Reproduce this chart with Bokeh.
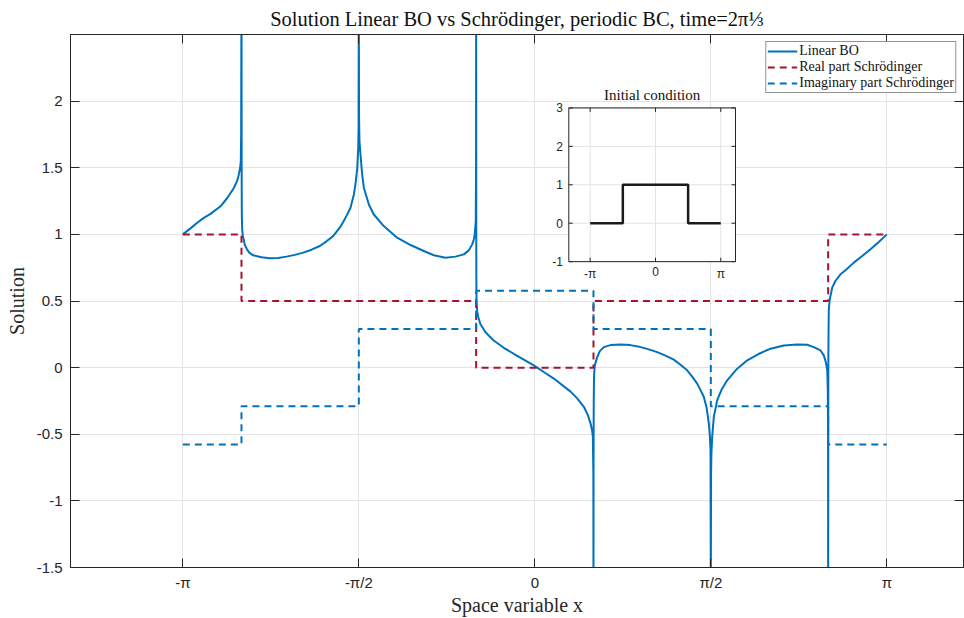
import numpy as np
from bokeh.plotting import figure
from bokeh.models import Range1d, LinearAxis, FixedTicker, CustomJSTickFormatter
from bokeh.core.properties import value
from bokeh.embed import file_html
from bokeh.resources import INLINE

PI = np.pi

# ---------------- data ----------------
bo_x = [-3.1416, -3.073, -3.013, -2.954, -2.894, -2.805, -2.745, -2.686, -2.656, -2.642, -2.630, -2.624, -2.621, -2.6185,
        -2.6175, -2.6165, -2.615, -2.612, -2.606, -2.599, -2.588, -2.569, -2.549, -2.513, -2.439, -2.365, -2.290, -2.216,
        -2.142, -2.067, -1.993, -1.919, -1.859, -1.800, -1.741, -1.705, -1.674, -1.645, -1.615, -1.600, -1.585, -1.576,
        -1.573, -1.5712,
        -1.5704, -1.569, -1.565, -1.556, -1.541, -1.526, -1.481, -1.437, -1.348, -1.229, -1.109, -0.991, -0.901, -0.797,
        -0.708, -0.634, -0.589, -0.559, -0.545, -0.536, -0.527, -0.5245, -0.5238,
        -0.5234, -0.5225, -0.522, -0.520, -0.514, -0.505, -0.486, -0.440, -0.367, -0.277, -0.188, -0.009, 0.080, 0.170,
        0.319, 0.378, 0.438, 0.473, 0.497, 0.511, 0.518, 0.5225, 0.5234,
        0.5238, 0.5245, 0.526, 0.528, 0.530, 0.535, 0.557, 0.580, 0.616, 0.676, 0.765, 0.854, 0.943, 1.017, 1.092, 1.166,
        1.240, 1.300, 1.360, 1.405, 1.449, 1.479, 1.508, 1.533, 1.553, 1.563, 1.568, 1.5704,
        1.5712, 1.573, 1.576, 1.583, 1.598, 1.628, 1.664, 1.717, 1.806, 1.896, 2.000, 2.104, 2.222, 2.342, 2.431, 2.490,
        2.550, 2.579, 2.597, 2.610, 2.615, 2.617, 2.6178,
        2.6185, 2.619, 2.620, 2.622, 2.624, 2.633, 2.654, 2.684, 2.728, 2.773, 2.847, 2.922, 2.996, 3.070, 3.1416]
bo_y = [1.000, 1.045, 1.087, 1.124, 1.154, 1.211, 1.273, 1.348, 1.403, 1.448, 1.50, 1.55, 1.75, 2.7,
        2.7, 1.5, 1.15, 1.04, 0.99, 0.963, 0.92, 0.888, 0.863, 0.843, 0.828, 0.821, 0.823, 0.833,
        0.846, 0.863, 0.885, 0.913, 0.948, 0.987, 1.05, 1.10, 1.15, 1.20, 1.30, 1.38, 1.497, 1.646,
        1.8, 2.7,
        2.7, 1.9, 1.7, 1.6, 1.45, 1.35, 1.224, 1.149, 1.062, 0.975, 0.920, 0.875, 0.843, 0.825,
        0.833, 0.85, 0.880, 0.925, 0.96, 1.0, 1.1, 1.5, 2.7,
        2.7, 1.0, 0.7, 0.5, 0.42, 0.38, 0.328, 0.266, 0.204, 0.149, 0.104, 0.017, -0.033, -0.082,
        -0.18, -0.231, -0.294, -0.356, -0.418, -0.47, -0.518, -0.8, -1.6,
        -1.6, -0.6, -0.244, -0.1, -0.045, 0.017, 0.079, 0.124, 0.154, 0.169, 0.174, 0.169, 0.154, 0.137, 0.116, 0.09,
        0.06, 0.022, -0.02, -0.067, -0.12, -0.169, -0.219, -0.30, -0.418, -0.52, -0.617, -1.6,
        -1.6, -0.8, -0.65, -0.518, -0.368, -0.244, -0.17, -0.095, -0.008, 0.055, 0.104, 0.142, 0.166, 0.174, 0.172, 0.154,
        0.129, 0.092, 0.042, -0.02, -0.17, -0.5, -1.6,
        -1.6, -0.5, 0.1, 0.3, 0.44, 0.515, 0.60, 0.652, 0.70, 0.731, 0.788, 0.838, 0.888, 0.943, 1.0]

re_edges = [-PI, -5 * PI / 6, -PI / 6, PI / 6, 5 * PI / 6, PI]
re_vals = [1.0, 0.5, 0.0, 0.5, 1.0]
im_edges = [-PI, -5 * PI / 6, -PI / 2, -PI / 6, PI / 6, PI / 2, 5 * PI / 6, PI]
im_vals = [-0.577, -0.289, 0.289, 0.577, 0.289, -0.289, -0.577]
ic_edges = [-PI, -PI / 2, PI / 2, PI]
ic_vals = [0.0, 1.0, 0.0]

x_ticks = [-PI, -PI / 2, 0.0, PI / 2, PI]
x_tick_labels = ["-π", "-π/2", "0", "π/2", "π"]
y_ticks = [-1.5, -1.0, -0.5, 0.0, 0.5, 1.0, 1.5, 2.0]
y_tick_labels = ["-1.5", "-1", "-0.5", "0", "0.5", "1", "1.5", "2"]
inset_x_ticks = [-PI, 0.0, PI]
inset_x_tick_labels = ["-π", "0", "π"]
inset_y_ticks = [-1.0, 0.0, 1.0, 2.0, 3.0]
inset_y_tick_labels = ["-1", "0", "1", "2", "3"]

# ---------------- layout constants ----------------
W, H = 964, 618
FL, FR, FT, FB = 70, 963, 33, 568          # main frame in canvas px
XLIM = (-4.144, 3.826)
YLIM = (-1.5, 2.5)
IL, IR, IT, IB = 568.3, 735.0, 106.7, 261.0  # inset box in canvas px
IXLIM = (-4.17, 3.85)
IYLIM = (-1.0, 3.0)

AX = "#262626"
GRID = "#e3e3e3"
BLUE = "#0072BD"
RED = "#A2142F"
SERIF = "Liberation Serif"
SANS = "Liberation Sans"


def step_xy(edges, vals):
    return list(edges), list(vals) + [vals[-1]]


def label_formatter(tick_values, tick_texts):
    return CustomJSTickFormatter(args=dict(tv=tick_values, tl=tick_texts), code="""
        let best = 0, d = Infinity;
        for (let i = 0; i < tv.length; i++) {
            const e = Math.abs(tv[i] - tick);
            if (e < d) { d = e; best = i; }
        }
        return tl[best];
    """)


p = figure(width=W, height=H, x_range=Range1d(*XLIM), y_range=Range1d(*YLIM),
           output_backend="svg", toolbar_location=None, tools="",
           min_border_left=FL, min_border_right=W - FR, min_border_top=FT,
           min_border_bottom=H - FB)
p.background_fill_color = "white"
p.border_fill_color = "white"
p.outline_line_color = AX
p.outline_line_width = 1

p.title.text = "Solution Linear BO vs Schrödinger, periodic BC, time=2π⅓"
p.title.align = "center"
p.title.text_font = SERIF
p.title.text_font_size = "20.5px"
p.title.text_font_style = "normal"
p.title.text_color = "#111111"
p.title.standoff = 10

for ax, ticks, labels, name, tstand, lstand in (
        (p.xaxis[0], x_ticks, x_tick_labels, "Space variable x", 6, 0),
        (p.yaxis[0], y_ticks, y_tick_labels, "Solution", 8, 6)):
    ax.ticker = FixedTicker(ticks=ticks)
    ax.formatter = label_formatter(ticks, labels)
    ax.major_tick_in = 9
    ax.major_tick_out = 0
    ax.minor_tick_line_color = None
    ax.axis_line_color = AX
    ax.major_tick_line_color = AX
    ax.major_label_text_font = SANS
    ax.major_label_text_font_size = "15px"
    ax.major_label_text_color = AX
    ax.major_label_standoff = tstand
    ax.axis_label = name
    ax.axis_label_text_font = SERIF
    ax.axis_label_text_font_size = "20px"
    ax.axis_label_text_font_style = "normal"
    ax.axis_label_text_color = AX
    ax.axis_label_standoff = lstand

p.xgrid.ticker = FixedTicker(ticks=x_ticks)
p.ygrid.ticker = FixedTicker(ticks=y_ticks)
for g in (p.xgrid[0], p.ygrid[0]):
    g.grid_line_color = GRID
    g.grid_line_width = 1

for ticks, side in ((x_ticks, "above"), (y_ticks, "right")):
    extra = LinearAxis(ticker=FixedTicker(ticks=ticks),
                       formatter=CustomJSTickFormatter(code="return ''"),
                       major_tick_in=9, major_tick_out=0, minor_tick_line_color=None,
                       axis_line_color=AX, major_tick_line_color=AX,
                       major_label_text_font_size="0px", major_label_standoff=0)
    p.add_layout(extra, side)

# ---------------- main curves ----------------
p.line(bo_x, bo_y, line_color=BLUE, line_width=2, legend_label="Linear BO")
rx, ry = step_xy(re_edges, re_vals)
p.step(rx, ry, mode="after", line_color=RED, line_width=2, line_dash="7 5",
       legend_label="Real part Schrödinger")
ix, iy = step_xy(im_edges, im_vals)
p.step(ix, iy, mode="after", line_color=BLUE, line_width=2, line_dash="7 5",
       legend_label="Imaginary part Schrödinger")

lg = p.legend[0]
lg.location = "top_right"
lg.margin = 7
lg.padding = 1
lg.spacing = 0
lg.glyph_width = 30
lg.glyph_height = 16
lg.label_height = 16
lg.label_standoff = 2
lg.label_text_font = SERIF
lg.label_text_font_size = "14px"
lg.label_text_color = "#111111"
lg.border_line_color = AX
lg.border_line_width = 1
lg.background_fill_alpha = 1

# ---------------- inset (own scales mapped into a sub-rectangle) ----------------
sx = (IR - IL) / (IXLIM[1] - IXLIM[0])
sy = (IB - IT) / (IYLIM[1] - IYLIM[0])
p.extra_x_ranges = {"ix": Range1d(IXLIM[0] - (IL - FL) / sx, IXLIM[1] + (FR - IR) / sx)}
p.extra_y_ranges = {"iy": Range1d(IYLIM[0] - (FB - IB) / sy, IYLIM[1] + (IT - FT) / sy)}
R = dict(x_range_name="ix", y_range_name="iy")

p.quad(left=[IXLIM[0]], right=[IXLIM[1]], bottom=[IYLIM[0]], top=[IYLIM[1]],
       fill_color="white", line_color=None, **R)
p.segment(x0=inset_x_ticks, y0=[IYLIM[0]] * len(inset_x_ticks),
          x1=inset_x_ticks, y1=[IYLIM[1]] * len(inset_x_ticks),
          line_color=GRID, line_width=1, **R)
p.segment(x0=[IXLIM[0]] * len(inset_y_ticks), y0=inset_y_ticks,
          x1=[IXLIM[1]] * len(inset_y_ticks), y1=inset_y_ticks,
          line_color=GRID, line_width=1, **R)
cx, cy = step_xy(ic_edges, ic_vals)
p.step(cx, cy, mode="after", line_color="#1a1a1a", line_width=2.5, **R)
p.quad(left=[IXLIM[0]], right=[IXLIM[1]], bottom=[IYLIM[0]], top=[IYLIM[1]],
       fill_color=None, line_color=AX, line_width=1, **R)

nxt, nyt = len(inset_x_ticks), len(inset_y_ticks)
p.ray(x=inset_x_ticks, y=[IYLIM[0]] * nxt, length=4, length_units="screen",
      angle=PI / 2, line_color=AX, line_width=1, **R)
p.ray(x=inset_x_ticks, y=[IYLIM[1]] * nxt, length=4, length_units="screen",
      angle=-PI / 2, line_color=AX, line_width=1, **R)
p.ray(x=[IXLIM[0]] * nyt, y=inset_y_ticks, length=4, length_units="screen",
      angle=0, line_color=AX, line_width=1, **R)
p.ray(x=[IXLIM[1]] * nyt, y=inset_y_ticks, length=4, length_units="screen",
      angle=PI, line_color=AX, line_width=1, **R)

p.text(x=inset_x_ticks, y=[IYLIM[0]] * nxt, text=inset_x_tick_labels,
       text_align="center", text_baseline="top", y_offset=5,
       text_font=value(SANS), text_font_size=value("12px"), text_color=AX, **R)
p.text(x=[IXLIM[0]] * nyt, y=inset_y_ticks, text=inset_y_tick_labels,
       text_align="right", text_baseline="middle", x_offset=-6,
       text_font=value(SANS), text_font_size=value("12px"), text_color=AX, **R)
p.text(x=[(IXLIM[0] + IXLIM[1]) / 2], y=[IYLIM[1]], text=["Initial condition"],
       text_align="center", text_baseline="alphabetic", y_offset=-13,
       text_font=value(SERIF), text_font_size=value("15px"), text_color="#111111", **R)

open("out.html", "w").write(file_html(p, INLINE))
